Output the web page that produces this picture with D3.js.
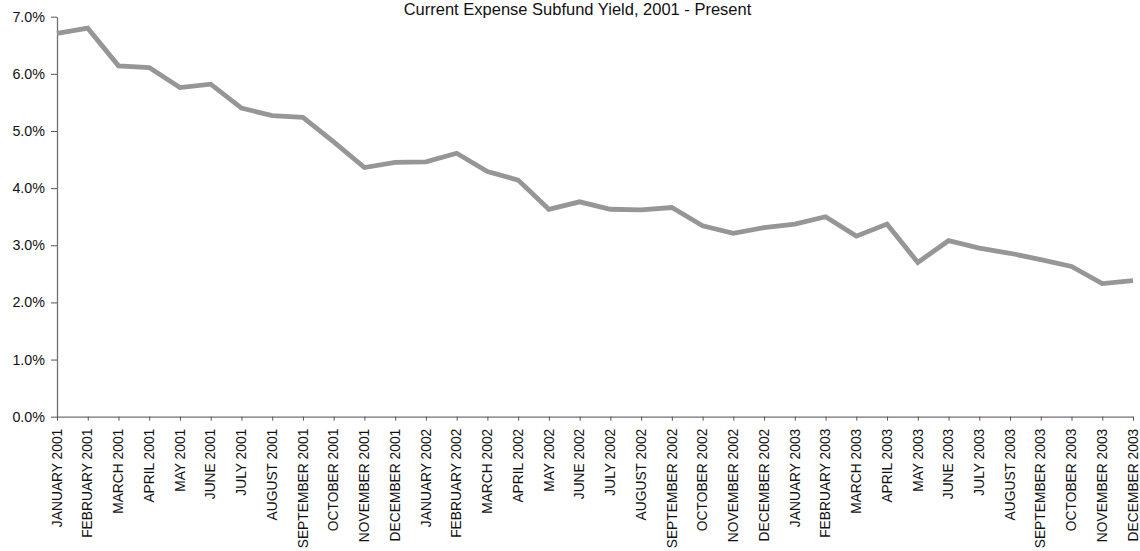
<!DOCTYPE html>
<html>
<head>
<meta charset="utf-8">
<script src="https://cdn.jsdelivr.net/npm/d3@7"></script>
<style>
  html, body { margin: 0; padding: 0; background: #fff; }
  svg { display: block; font-family: Arial, "Liberation Sans", sans-serif; }
</style>
</head>
<body>
<svg id="chart" width="1140" height="551"></svg>
<script>
// Monthly categories, January 2001 through December 2003
const months = ["JANUARY", "FEBRUARY", "MARCH", "APRIL", "MAY", "JUNE",
  "JULY", "AUGUST", "SEPTEMBER", "OCTOBER", "NOVEMBER", "DECEMBER"];
const years = [2001, 2002, 2003];
const categories = years.flatMap(y => months.map(m => m + " " + y));

// Subfund yield, percent
const yieldValues = [
  6.71, 6.80, 6.14, 6.11, 5.76, 5.82, 5.40, 5.27, 5.24, 4.81, 4.36, 4.45,
  4.46, 4.61, 4.29, 4.14, 3.63, 3.76, 3.63, 3.62, 3.66, 3.34, 3.21, 3.31,
  3.37, 3.50, 3.16, 3.37, 2.70, 3.08, 2.95, 2.86, 2.75, 2.63, 2.33, 2.38
];

const yTicks = [0, 1, 2, 3, 4, 5, 6, 7];
const title = "Current Expense Subfund Yield, 2001 - Present";

const svg = d3.select("#chart");
const plot = { left: 57, right: 1133, top: 16.7, bottom: 416.7 };

const x = d3.scalePoint().domain(categories).range([plot.left, plot.right]);
const y = d3.scaleLinear().domain([0, 7]).range([plot.bottom, plot.top]);

// Title
svg.append("text")
  .attr("x", 577.5).attr("y", 15)
  .attr("text-anchor", "middle")
  .attr("font-size", 16.5)
  .attr("fill", "#111")
  .text(title);

// Y axis
const yAxis = svg.append("g")
  .attr("transform", `translate(${plot.left},0)`)
  .call(d3.axisLeft(y).tickValues(yTicks)
    .tickFormat(d => d.toFixed(1) + "%")
    .tickSize(6).tickSizeOuter(0).tickPadding(6));
yAxis.select(".domain").attr("stroke", "#707070").attr("stroke-width", 1.3);
yAxis.selectAll(".tick line").attr("stroke", "#555");
yAxis.selectAll(".tick text").attr("font-size", 14.3).attr("fill", "#111")
  .attr("font-family", "Arial, 'Liberation Sans', sans-serif");

// X axis
const xAxis = svg.append("g")
  .attr("transform", `translate(0,${plot.bottom})`)
  .call(d3.axisBottom(x).tickSize(4).tickSizeOuter(0).tickPadding(0));
xAxis.select(".domain").attr("stroke", "#707070").attr("stroke-width", 1.3);
xAxis.selectAll(".tick line").attr("stroke", "#555");
xAxis.selectAll(".tick text")
  .attr("font-size", 13.8).attr("fill", "#111")
  .attr("font-family", "Arial, 'Liberation Sans', sans-serif")
  .attr("text-anchor", "end")
  .attr("dy", null)
  .attr("transform", "translate(4.2,12) rotate(-90)")
  .attr("x", 0).attr("y", 0);

// Yield line
const line = d3.line()
  .x((d, i) => x(categories[i]))
  .y(d => y(d));

svg.append("path")
  .datum(yieldValues)
  .attr("d", line)
  .attr("fill", "none")
  .attr("stroke", "#969696")
  .attr("stroke-width", 4.8)
  .attr("stroke-linejoin", "miter");
</script>
</body>
</html>
